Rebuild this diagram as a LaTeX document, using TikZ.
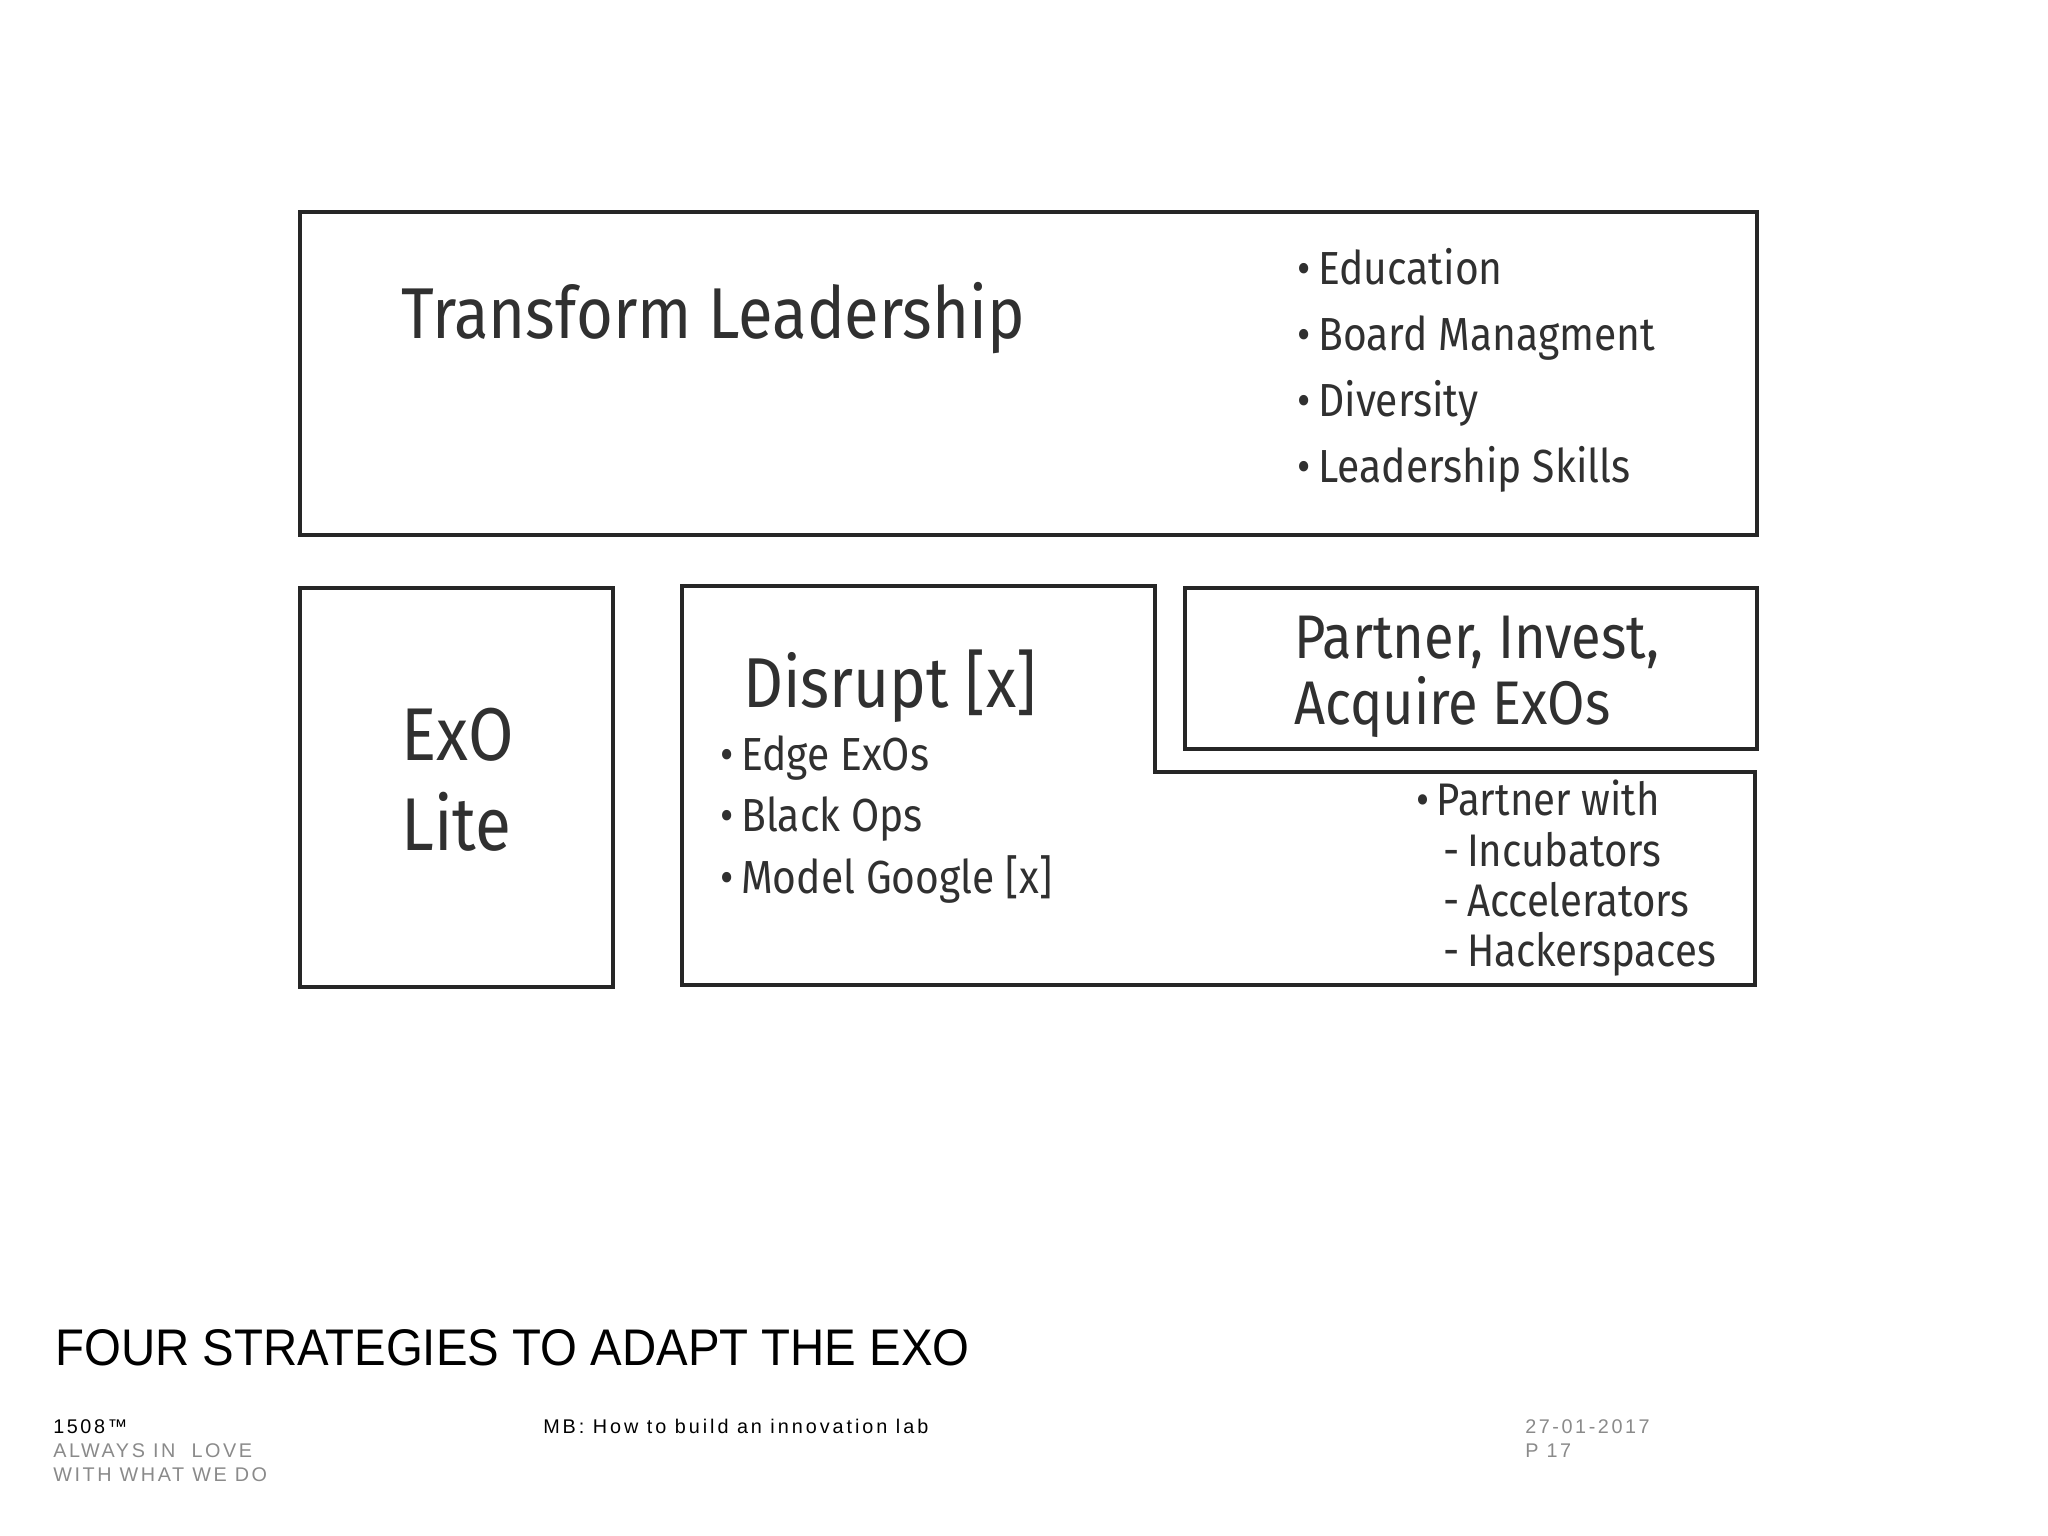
\documentclass[tikz,border=0pt]{standalone}
\usepackage{fontspec}
\setmainfont{Fira Sans}[FakeStretch=0.88]
\newfontfamily\footfont{Liberation Sans}[FakeStretch=0.92]
\newfontfamily\footsmall{Liberation Sans}[LetterSpace=13]
\usetikzlibrary{positioning}
\definecolor{inkline}{HTML}{262626}
\definecolor{inktext}{HTML}{303030}
\definecolor{footgray}{HTML}{8A8A8A}
\tikzset{
  panel/.style={draw=inkline, line width=3pt},
  head/.style={inktext, inner sep=0pt, anchor=base west, font=\fontsize{#1}{#1}\selectfont},
  item/.style={inktext, inner sep=0pt, anchor=base west, font=\fontsize{#1}{#1}\selectfont},
  foot/.style={inner sep=0pt, anchor=base west, font=\footsmall\fontsize{14.3}{14.3}\selectfont}
}

\begin{document}
\begin{tikzpicture}[x=0.01in, y=-0.01in]
            \useasboundingbox (0,0) rectangle (2048,1536);
            \node[panel, minimum width=1457*0.01in, minimum height=323*0.01in, anchor=north west] (lead) at (298,210) {};
            \node[panel, minimum width=313*0.01in, minimum height=399*0.01in, anchor=north west] (lite) at (298,586) {};
            \node[panel, minimum width=572*0.01in, minimum height=161*0.01in, anchor=north west] (invest) at (1183,586) {};
            \draw[panel] (682,586) coordinate (dis) -- (1155,586) -- (1155,772) -- (1755,772) -- (1755,985) -- (682,985) -- cycle;
            \node[head=52] (leadtitle) at (401,338) {Transform Leadership};
            \foreach \t [count=\i] in {Education, Board Managment, Diversity, Leadership Skills}
                \node[item=33.5] (lead-\i) at (1297,{284+66*(\i-1)}) {•\,\t};
            \node[head=54] (exo) at (401,760) {ExO};
            \node[head=54] (exolite) at (401,850) {Lite};
            \node[head=51] (distitle) at (743,707) {Disrupt [x]};
            \foreach \t [count=\i] in {Edge ExOs, Black Ops, Model Google [x]}
                \node[item=33.5] (dis-\i) at (720,{770+61.5*(\i-1)}) {•\,\t};
            \node[head=44.5] (invest1) at (1294,658) {Partner, Invest,};
            \node[head=44.5] (invest2) at (1294,724) {Acquire ExOs};
            \node[item=33] (partner) at (1416,815) {•\,Partner with};
            \foreach \t [count=\i] in {Incubators, Accelerators, Hackerspaces}
                \node[item=33] (partner-\i) at (1443,{866+50*(\i-1)}) {-\,\t};
            \node[inner sep=0pt, anchor=base west, font=\footfont\fontsize{37.2}{37.2}\selectfont] (title) at (55,1365) {FOUR STRATEGIES TO ADAPT THE EXO};
            \node[foot] (brand) at (53,1433) {1508\texttrademark};
            \node[foot, footgray] (tag1) at (53,1457) {ALWAYS IN\ \ LOVE};
            \node[foot, footgray] (tag2) at (53,1481) {WITH WHAT WE DO};
            \node[foot] (talk) at (543,1433) {\addfontfeature{LetterSpace=15}MB: How to build an innovation lab};
            \node[foot, footgray] (date) at (1525,1433) {27-01-2017};
            \node[foot, footgray] (page) at (1525,1457) {P 17};
\end{tikzpicture}
\end{document}
